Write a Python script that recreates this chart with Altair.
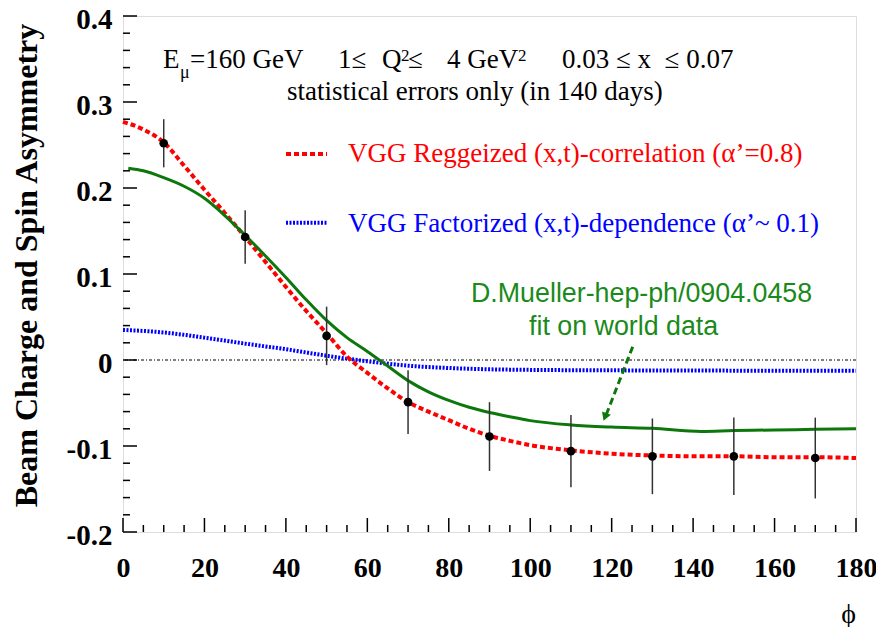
import altair as alt
import pandas as pd

# ---------------- data ----------------
phi_pts = [10, 30, 50, 70, 90, 110, 130, 150, 170]
asym_pts = [0.252, 0.143, 0.028, -0.049, -0.089, -0.106, -0.112, -0.112, -0.114]
err_pts = [0.028, 0.031, 0.034, 0.037, 0.040, 0.042, 0.044, 0.045, 0.047]

phi_regge = [0, 5, 10, 15, 20, 25, 30, 35, 40, 45, 50, 55, 60, 65, 70, 75, 80, 85,
             90, 95, 100, 110, 120, 130, 140, 150, 160, 170, 180]
asym_regge = [0.277, 0.268, 0.253, 0.226, 0.198, 0.171, 0.143, 0.114, 0.085, 0.057,
              0.031, 0.004, -0.015, -0.033, -0.049, -0.060, -0.070, -0.080, -0.088,
              -0.094, -0.099, -0.105, -0.109, -0.111, -0.112, -0.112, -0.113, -0.113, -0.114]

phi_fact = [0, 10, 20, 30, 40, 50, 60, 70, 80, 90, 100, 120, 140, 160, 180]
asym_fact = [0.035, 0.032, 0.026, 0.019, 0.0125, 0.005, -0.0015, -0.0066, -0.0093,
             -0.0108, -0.0115, -0.012, -0.0123, -0.0124, -0.0125]

phi_mueller = [1.3, 5, 10, 15, 20, 25, 30, 35, 40, 45, 50, 55, 60, 65, 70, 75, 80, 85,
               90, 95, 100, 110, 120, 130, 142, 150, 160, 170, 180]
asym_mueller = [0.223, 0.220, 0.212, 0.202, 0.188, 0.168, 0.145, 0.121, 0.096, 0.070,
                0.046, 0.026, 0.010, -0.007, -0.024, -0.037, -0.047, -0.055, -0.061,
                -0.066, -0.0705, -0.0755, -0.078, -0.0795, -0.083, -0.082, -0.0814,
                -0.0806, -0.080]

x_major = [0, 20, 40, 60, 80, 100, 120, 140, 160, 180]
x_minor = [v for v in range(0, 181, 5) if v % 20 != 0]
y_major = [-0.2, -0.1, 0.0, 0.1, 0.2, 0.3, 0.4]
y_minor = [round(-0.2 + 0.02 * i, 2) for i in range(31) if i % 5 != 0]

W, H = 733, 516
SERIF = "Liberation Serif"
SANS = "Liberation Sans"
GREEN = "#0c780c"
GREEN_TXT = "#1a8a1a"

xs = alt.Scale(domain=[0, 180], nice=False, zero=False)
ys = alt.Scale(domain=[-0.2, 0.4], nice=False, zero=False)

pts = pd.DataFrame({"phi": phi_pts, "A": asym_pts, "err": err_pts})
regge = pd.DataFrame({"phi": phi_regge, "A": asym_regge})
fact = pd.DataFrame({"phi": phi_fact, "A": asym_fact})
mueller = pd.DataFrame({"phi": phi_mueller, "A": asym_mueller})

y_label_expr = ("datum.value == 0 ? '0' : (datum.value < 0 ? '-' + format(-datum.value, '.1f')"
                " : format(datum.value, '.1f'))")

X = alt.X("phi:Q", scale=xs, axis=alt.Axis(
    values=x_major, format="d", ticks=False, tickSize=0, domain=False, grid=False,
    labelFont=SERIF, labelFontWeight="bold", labelFontSize=28, labelColor="black",
    labelPadding=22, labelFlush=False,
    title="ϕ", titleFont=SERIF, titleFontWeight="normal", titleFontSize=28,
    titleColor="black", titleX=725, titleY=90, titleAlign="center",
    titleBaseline="alphabetic"))
Y = alt.Y("A:Q", scale=ys, axis=alt.Axis(
    values=y_major, labelExpr=y_label_expr, ticks=False, tickSize=0, domain=False,
    grid=False, labelFont=SERIF, labelFontWeight="bold", labelFontSize=29,
    labelColor="black", labelPadding=11, labelFlush=False, labelOffset=3,
    title="Beam Charge and Spin Asymmetry", titleFont=SERIF, titleFontWeight="bold",
    titleFontSize=32, titleColor="black", titleAngle=270, titleX=-86.5, titleY=249,
    titleAlign="center", titleBaseline="alphabetic"))

base_pts = alt.Chart(pts)

zero_line = alt.Chart(pd.DataFrame({"A": [0.0]})).mark_rule(
    color="black", strokeWidth=1, strokeDash=[3, 2, 1, 2]).encode(
    y=alt.Y("A:Q", scale=ys))

blue = alt.Chart(fact).mark_line(color="#0000ff", strokeWidth=4, strokeDash=[2, 1.5],
                                 interpolate="monotone").encode(x=X, y=Y)
red = alt.Chart(regge).mark_line(color="#ff0000", strokeWidth=4, strokeDash=[5, 3],
                                 interpolate="monotone").encode(x=X, y=Y)
green = alt.Chart(mueller).mark_line(color=GREEN, strokeWidth=3,
                                     interpolate="monotone").encode(x=X, y=Y)

ebars = base_pts.transform_calculate(lo="datum.A - datum.err", hi="datum.A + datum.err").mark_rule(
    color="#333333", strokeWidth=1.5).encode(
    x=alt.X("phi:Q", scale=xs), y=alt.Y("lo:Q", scale=ys), y2="hi:Q")
dots = base_pts.mark_circle(color="black", size=75, opacity=1).encode(
    x=alt.X("phi:Q", scale=xs), y=alt.Y("A:Q", scale=ys))

# inward ticks
xt_major = alt.Chart(pd.DataFrame({"t": x_major})).mark_rule(color="black", strokeWidth=1.5).encode(
    x=alt.X("t:Q", scale=xs), y=alt.value(H), y2=alt.value(H - 14))
xt_minor = alt.Chart(pd.DataFrame({"t": x_minor})).mark_rule(color="black", strokeWidth=1.5).encode(
    x=alt.X("t:Q", scale=xs), y=alt.value(H), y2=alt.value(H - 7))
yt_major = alt.Chart(pd.DataFrame({"t": y_major})).mark_rule(color="black", strokeWidth=1.5).encode(
    y=alt.Y("t:Q", scale=ys), x=alt.value(0), x2=alt.value(14))
yt_minor = alt.Chart(pd.DataFrame({"t": y_minor})).mark_rule(color="black", strokeWidth=1.5).encode(
    y=alt.Y("t:Q", scale=ys), x=alt.value(0), x2=alt.value(7))

one = pd.DataFrame({"k": [0]})


def txt(s, x, y, size=27, color="black", font=SERIF, weight="normal"):
    return alt.Chart(one).mark_text(text=s, align="left", baseline="alphabetic",
                                    font=font, fontSize=size, color=color,
                                    fontWeight=weight).encode(
        x=alt.value(x), y=alt.value(y))


NB = "\u00a0"
texts = [
    txt("E", 40, 52),
    txt("μ", 57, 62, size=18),
    txt("=160 GeV", 67, 52),
    txt("1≤", 215, 52),
    txt("Q", 259, 52),
    txt("2", 278, 45, size=17),
    txt("≤", 285, 52),
    txt("4 GeV", 324, 52),
    txt("2", 395, 45, size=17),
    txt("0.03 ≤ x" + NB + NB + "≤ 0.07", 439, 52),
    txt("statistical errors only (in 140 days)", 164, 84),
    txt("VGG Reggeized (x,t)-correlation (α’=0.8)", 225, 146, color="#ff0000"),
    txt("VGG Factorized (x,t)-dependence (α’~ 0.1)", 225, 215.5, color="#0000ff"),
    txt("D.Mueller-hep-ph/0904.0458", 348, 285.5, size=26.8, color=GREEN_TXT, font=SANS),
    txt("fit on world data", 406, 319, size=26.8, color=GREEN_TXT, font=SANS),
]

leg_red = alt.Chart(one).mark_rule(color="#ff0000", strokeWidth=4, strokeDash=[5, 3]).encode(
    x=alt.value(163), x2=alt.value(204), y=alt.value(138))
leg_blue = alt.Chart(one).mark_rule(color="#0000ff", strokeWidth=4, strokeDash=[2, 1.5]).encode(
    x=alt.value(163), x2=alt.value(204), y=alt.value(206.7))

arrow_line = alt.Chart(one).mark_rule(color=GREEN, strokeWidth=3, strokeDash=[7, 4]).encode(
    x=alt.value(509.7), x2=alt.value(483.5), y=alt.value(330.7), y2=alt.value(398))
arrow_head = alt.Chart(one).mark_point(shape="triangle-down", filled=True, color=GREEN,
                                       size=90, angle=21, opacity=1).encode(
    x=alt.value(482), y=alt.value(401))

chart = alt.layer(
    zero_line, blue, red, green, ebars, dots,
    xt_major, xt_minor, yt_major, yt_minor,
    leg_red, leg_blue, arrow_line, arrow_head, *texts
).properties(
    width=W, height=H,
    autosize=alt.AutoSizeParams(type="none"),
    padding={"left": 115, "top": 8, "right": 20, "bottom": 95},
).configure_view(stroke="black", strokeWidth=2.5).configure(background="white")

chart.save("out.html", embed_options={"renderer": "svg", "actions": False})
